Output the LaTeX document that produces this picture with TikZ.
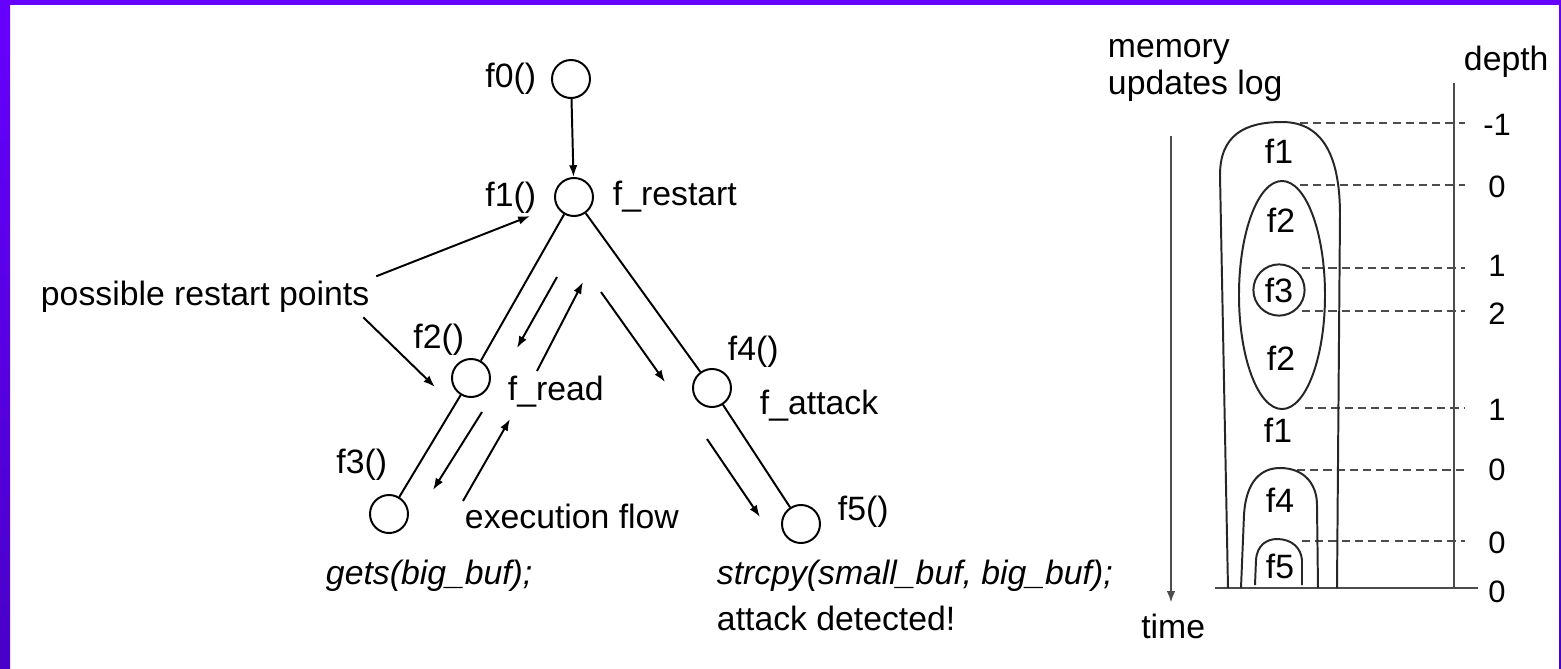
\documentclass[tikz,border=0pt]{standalone}
\usepackage{fontspec}
\setmainfont{Liberation Sans}
\usepackage{tikz}
\usetikzlibrary{positioning}
\usetikzlibrary{calc}
\usetikzlibrary{arrows.meta}
\definecolor{slidepurple}{HTML}{6600FF}
\definecolor{slidepurpledark}{HTML}{4A00C8}
\tikzset{fn/.style={circle,draw,minimum size=0.475cm,inner sep=0pt},
  lbl/.style={inner sep=0pt,font=\fontsize{12}{14}\selectfont},
  num/.style={inner sep=0pt,font=\fontsize{11}{13}\selectfont},
  flow/.style={-{Latex[length=4.2pt,width=3pt]}},
  axisline/.style={black!70,line width=0.8pt},
  lvl/.style={black!70,line width=0.8pt,dash pattern=on 2.9pt off 1.8pt}}

\begin{document}
\begin{tikzpicture}[x=0.0125cm, y=-0.0125cm, line width=0.7pt]
\useasboundingbox (0,0) rectangle (1561,668);
% slide frame
\fill[white] (0,0) rectangle (1561,668);
\fill[slidepurple] (0,0) rectangle (1561,5);
\shade[top color=slidepurple, bottom color=slidepurpledark] (0,0) rectangle (10,668);
\shade[top color=slidepurple, bottom color=slidepurpledark] (1559,0) rectangle (1561,668);

% call tree
\node (f0) at (571,79) [fn] {};
\node (f1) at (574,197) [fn] {};
\node (f2) at (471,378) [fn] {};
\node (f3) at (389,514) [fn] {};
\node (f4) at (712,388) [fn] {};
\node (f5) at (801,524) [fn] {};
\draw[flow] (f0) -- (f1);
\draw (f1) -- (f2);
\draw (f2) -- (f3);
\draw (f1) -- (f4);
\draw (f4) -- (f5);

\node (l0) at (537,87) [lbl,anchor=base east] {f0()};
\node (l1) at (537,206) [lbl,anchor=base east] {f1()};
\node (n1) at (612,205) [lbl,anchor=base west] {f\_restart};
\node (l2) at (465,348) [lbl,anchor=base east] {f2()};
\node (n2) at (507,400) [lbl,anchor=base west] {f\_read};
\node (l3) at (388,473) [lbl,anchor=base east] {f3()};
\node (l4) at (727,360) [lbl,anchor=base west] {f4()};
\node (n4) at (759,414) [lbl,anchor=base west] {f\_attack};
\node (l5) at (837,520) [lbl,anchor=base west] {f5()};
\node (c3) at (325,584) [lbl,anchor=base west] {\itshape gets(big\_buf);};
\node (c5) at (716,584) [lbl,anchor=base west] {\itshape strcpy(small\_buf, big\_buf);};
\node (ad) at (716,630) [lbl,anchor=base west] {attack detected!};
\node (ef) at (464,528) [lbl,anchor=base west] {execution flow};
\node (pr) at (40,305) [lbl,anchor=base west] {possible restart points};

\draw[flow] ($(pr.east)+(6,-20)$) -- (530,216);
\draw[flow] ($(pr.east)+(-7,21)$) -- (435,387);

% execution flow arrows
\foreach \sx/\sy/\ex/\ey in {557/277/517/348, 537/371/583/282, 601/292/665/382,
  482/412/433/490, 463/501/510/419, 707/439/760/517} {
\draw[flow] (\sx,\sy) -- (\ex,\ey);
}

% memory updates log
\node (mem) at (1107,57) [lbl,anchor=base west] {memory};
\node (upd) at (1107,94) [lbl,anchor=base west] {updates log};
\node (dep) at (1463,70) [lbl,anchor=base west] {depth};
\node (tim) at (1206,638) [lbl,anchor=base east] {time};
\draw[axisline,flow] (1171,136) -- (1171,603);
\draw[axisline] (1454,83) -- (1454,588);
\draw[axisline] (1215,588) -- (1478,588);

\foreach \y/\xs/\d/\ly in {123/1300/-1/125, 185/1300/0/187, 268/1302/1/266, 311/1302/2/314,
  408/1305/1/410, 470/1297/0/470, 541/1302/0/543} {
\draw[lvl] (\xs,\y) -- (1465,\y);
\node at (1497,\ly) [num] {\d};
}
\node (d8) at (1497,592) [num] {0};

% nested calls
\draw[black!85] (1228,588) -- (1220,175) .. controls (1220,135) and (1245,122) .. (1282,122)
  .. controls (1325,122) and (1340,160) .. (1340,215) -- (1337,588);
\draw[black!85] (1282,295) ellipse [x radius=0.5375cm, y radius=1.425cm];
\draw[black!85] (1279,290) circle (0.32cm);
\draw[black!85] (1241,588) -- (1244,515) .. controls (1246,480) and (1262,468) .. (1280,468)
  .. controls (1305,468) and (1317,485) .. (1317,505) -- (1318,588);
\draw[black!85] (1255,585) -- (1256,560) .. controls (1257,545) and (1267,539) .. (1277,539)
  .. controls (1292,539) and (1301,548) .. (1302,560) -- (1302,585);

\node (s1) at (1279,151) [lbl] {f1};
\node (s2) at (1281,220) [lbl] {f2};
\node (s3) at (1279,290) [lbl] {f3};
\node (s4) at (1281,358) [lbl] {f2};
\node (s5) at (1278,430) [lbl] {f1};
\node (s6) at (1280,500) [lbl] {f4};
\node (s7) at (1280,566) [lbl] {f5};

\end{tikzpicture}
\end{document}
